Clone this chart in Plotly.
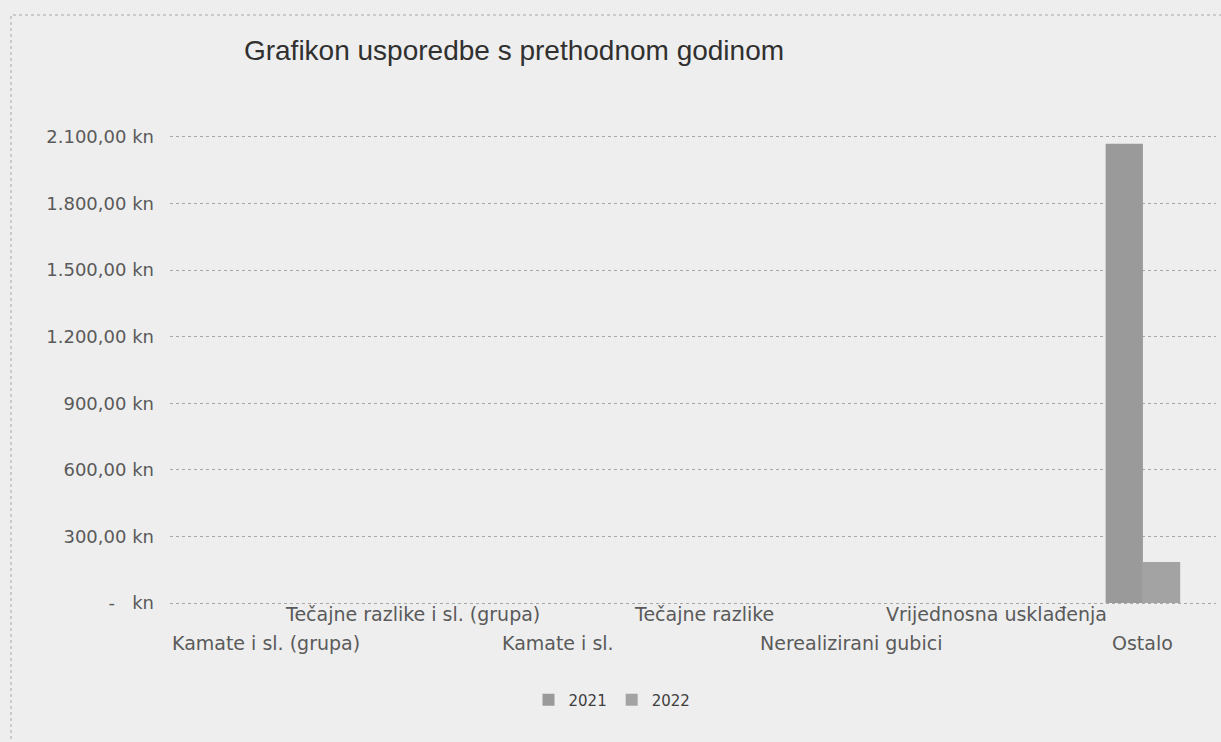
import plotly.graph_objects as go

categories = ["Kamate i sl. (grupa)", "Tečajne razlike i sl. (grupa)", "Kamate i sl.",
              "Tečajne razlike", "Nerealizirani gubici", "Vrijednosna usklađenja", "Ostalo"]
values_2021 = [0, 0, 0, 0, 0, 0, 2070]
values_2022 = [0, 0, 0, 0, 0, 0, 185]
series_names = ["2021", "2022"]
y_tick_vals = [0, 300, 600, 900, 1200, 1500, 1800, 2100]
y_tick_text = ["-   kn", "300,00 kn", "600,00 kn", "900,00 kn", "1.200,00 kn",
               "1.500,00 kn", "1.800,00 kn", "2.100,00 kn"]

W, H = 1221, 742
L, R, T, B = 170, 5, 133, 135
pw, ph = W - L - R, H - T - B
pad = 18  # small range padding so edge gridlines are drawn
ymin, ymax = -pad, 2100 + pad

def px_x(x):
    return (x - L) / pw

def px_y(y):
    return (H - B - y) / ph

fig = go.Figure()
fig.add_trace(go.Bar(x=categories, y=values_2021, name=series_names[0],
                     marker=dict(color="#9a9a9a", line=dict(width=0))))
fig.add_trace(go.Bar(x=categories, y=values_2022, name=series_names[1],
                     marker=dict(color="#a3a3a3", line=dict(width=0))))

annotations = []
for i, c in enumerate(categories):
    yy = 614 if i % 2 == 1 else 643
    annotations.append(dict(x=c, xref="x", y=px_y(yy), yref="paper", text=c,
                            showarrow=False, yanchor="middle", xanchor="center",
                            font=dict(family="DejaVu Sans", size=19, color="#5a5a5a")))

fig.update_layout(
    width=W, height=H,
    margin=dict(l=L, r=R, t=T, b=B),
    paper_bgcolor="#eeeeee", plot_bgcolor="#eeeeee",
    barmode="group", bargap=0.49, bargroupgap=0,
    title=dict(text="Grafikon usporedbe s prethodnom godinom", xref="container",
               x=514 / W, y=1 - 50 / H, xanchor="center", yanchor="middle",
               font=dict(family="Liberation Sans", size=28, color="#303030")),
    xaxis=dict(showticklabels=False, showgrid=False, zeroline=False, showline=False,
               ticks=""),
    yaxis=dict(range=[ymin, ymax], tickvals=y_tick_vals, ticktext=y_tick_text,
               showgrid=True, gridcolor="#a8a8a8", griddash="dot", gridwidth=1,
               zeroline=False, showline=False, ticks="", ticklabelstandoff=15,
               tickfont=dict(family="DejaVu Sans", size=18, color="#5a5a5a")),
    legend=dict(orientation="h", x=px_x(612), y=px_y(700), xanchor="center",
                yanchor="middle", font=dict(family="DejaVu Sans", size=15, color="#404040"),
                bgcolor="rgba(0,0,0,0)", itemwidth=30),
    annotations=annotations,
    shapes=[dict(type="rect", xref="paper", yref="paper",
                 x0=px_x(11), x1=px_x(1240), y0=px_y(760), y1=px_y(15),
                 line=dict(color="#a8a8a8", width=1, dash="dot"), layer="below")],
    showlegend=True,
)

fig.write_html("out.html", config={"displayModeBar": False},
               post_script="document.body.style.margin='0';document.body.style.background='#eeeeee';")
